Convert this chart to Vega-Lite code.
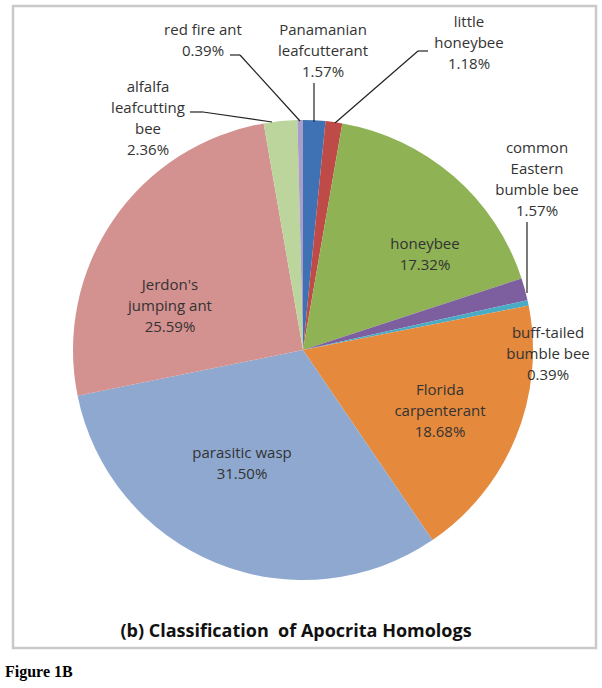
{
  "$schema": "https://vega.github.io/schema/vega-lite/v6.json",
  "width": 602,
  "height": 688,
  "autosize": {"type": "none"},
  "padding": 0,
  "background": "white",
  "config": {"view": {"stroke": null}},
  "datasets": {
    "slices": [
      {"species": "Panamanian leafcutter ant", "pct": 1.57, "ord": 1},
      {"species": "little honeybee", "pct": 1.18, "ord": 2},
      {"species": "honeybee", "pct": 17.32, "ord": 3},
      {"species": "common Eastern bumble bee", "pct": 1.57, "ord": 4},
      {"species": "buff-tailed bumble bee", "pct": 0.39, "ord": 5},
      {"species": "Florida carpenter ant", "pct": 18.68, "ord": 6},
      {"species": "parasitic wasp", "pct": 31.5, "ord": 7},
      {"species": "Jerdon's jumping ant", "pct": 25.59, "ord": 8},
      {"species": "alfalfa leafcutting bee", "pct": 2.36, "ord": 9},
      {"species": "red fire ant", "pct": 0.39, "ord": 10}
    ],
    "labels": [
      {"txt": "red fire ant\n0.39%", "u": -43.48, "v": 139.13},
      {"txt": "Panamanian\nleafcutterant\n1.57%", "u": 8.7, "v": 139.13},
      {"txt": "little\nhoneybee\n1.18%", "u": 72.17, "v": 142.61},
      {"txt": "honeybee\n17.32%", "u": 53.04, "v": 46.09},
      {"txt": "common\nEastern\nbumble bee\n1.57%", "u": 101.74, "v": 87.83},
      {"txt": "buff-tailed\nbumble bee\n0.39%", "u": 106.52, "v": 7.39},
      {"txt": "Florida\ncarpenterant\n18.68%", "u": 59.57, "v": -17.39},
      {"txt": "parasitic wasp\n31.50%", "u": -26.52, "v": -44.78},
      {"txt": "Jerdon's\njumping ant\n25.59%", "u": -57.83, "v": 28.26},
      {"txt": "alfalfa\nleafcutting\nbee\n2.36%", "u": -67.39, "v": 114.35}
    ],
    "leaders": [
      {"u1": -31.74, "v1": 128.26, "u2": -27.39, "v2": 128.26},
      {"u1": -27.39, "v1": 128.26, "u2": -1.3, "v2": 99.57},
      {"u1": 4.78, "v1": 116.09, "u2": 4.78, "v2": 99.13},
      {"u1": 54.35, "v1": 130.0, "u2": 50.0, "v2": 130.0},
      {"u1": 50.0, "v1": 130.0, "u2": 13.91, "v2": 98.7},
      {"u1": 97.39, "v1": 55.65, "u2": 97.39, "v2": 24.78},
      {"u1": -49.13, "v1": 103.48, "u2": -43.48, "v2": 103.48},
      {"u1": -43.48, "v1": 103.48, "u2": -13.48, "v2": 99.13}
    ]
  },
  "layer": [
    {
      "data": {"values": [{"a": 1}]},
      "mark": {"type": "rect", "fill": null, "stroke": "#c9c9c9", "strokeWidth": 2.5},
      "encoding": {
        "x": {"datum": -126.09, "type": "quantitative", "scale": {"domain": [-131.739, 130.0], "zero": false, "nice": false}, "axis": null},
        "x2": {"datum": 127.39},
        "y": {"datum": 149.57, "type": "quantitative", "scale": {"domain": [-146.957, 152.174], "zero": false, "nice": false}, "axis": null},
        "y2": {"datum": -129.57}
      }
    },
    {
      "data": {"name": "slices"},
      "mark": {"type": "arc", "radius": 230},
      "encoding": {
        "x": {"datum": 0, "type": "quantitative"},
        "y": {"datum": 0, "type": "quantitative"},
        "theta": {"field": "pct", "type": "quantitative", "stack": true},
        "order": {"field": "ord", "type": "quantitative", "sort": "ascending"},
        "color": {
          "field": "species", "type": "nominal", "legend": null,
          "scale": {
            "domain": ["Panamanian leafcutter ant", "little honeybee", "honeybee", "common Eastern bumble bee", "buff-tailed bumble bee", "Florida carpenter ant", "parasitic wasp", "Jerdon's jumping ant", "alfalfa leafcutting bee", "red fire ant"],
            "range": ["#3f72b5", "#be4b48", "#8eb254", "#7d5fa0", "#4aabc5", "#e5893d", "#8ea8d0", "#d39190", "#bbd59d", "#a99ec9"]
          }
        }
      }
    },
    {
      "data": {"name": "leaders"},
      "mark": {"type": "rule", "color": "#222222", "strokeWidth": 1.2},
      "encoding": {
        "x": {"field": "u1", "type": "quantitative"},
        "y": {"field": "v1", "type": "quantitative"},
        "x2": {"field": "u2"},
        "y2": {"field": "v2"}
      }
    },
    {
      "data": {"name": "labels"},
      "mark": {"type": "text", "lineBreak": "\n", "font": "Open Sans", "fontSize": 15, "lineHeight": 21, "align": "center", "baseline": "middle", "color": "#333333"},
      "encoding": {
        "x": {"field": "u", "type": "quantitative"},
        "y": {"field": "v", "type": "quantitative"},
        "text": {"field": "txt"}
      }
    },
    {
      "data": {"values": [{"t": "(b) Classification\u00a0 of Apocrita Homologs"}]},
      "mark": {"type": "text", "font": "Open Sans", "fontSize": 18, "fontWeight": "bold", "align": "center", "baseline": "middle", "color": "#111111"},
      "encoding": {
        "x": {"datum": -3.04, "type": "quantitative"},
        "y": {"datum": -122.61, "type": "quantitative"},
        "text": {"field": "t"}
      }
    },
    {
      "data": {"values": [{"t": "Figure 1B"}]},
      "mark": {"type": "text", "font": "Liberation Serif", "fontSize": 16, "fontWeight": "bold", "align": "left", "baseline": "middle", "color": "#000000"},
      "encoding": {
        "x": {"datum": -129.57, "type": "quantitative"},
        "y": {"datum": -140.0, "type": "quantitative"},
        "text": {"field": "t"}
      }
    }
  ]
}
